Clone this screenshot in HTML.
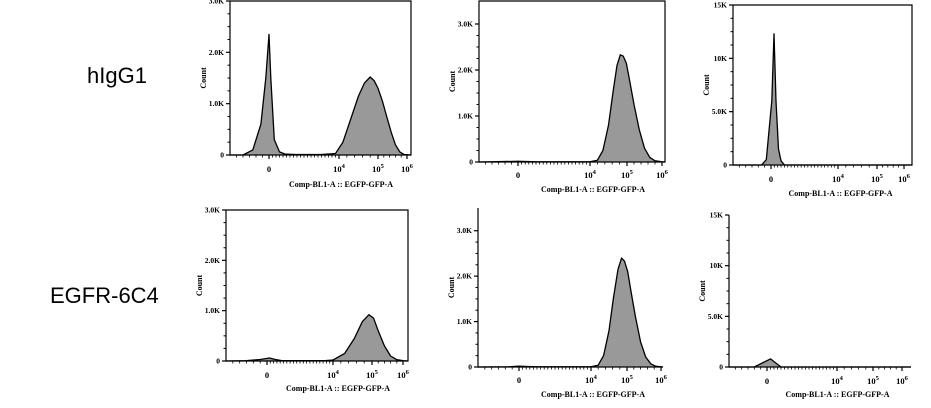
<!DOCTYPE html>
<html><head><meta charset="utf-8"><style>
html,body{margin:0;padding:0;background:#fff;}
body{width:931px;height:408px;overflow:hidden;position:relative;font-family:"Liberation Sans",sans-serif;}
.row{position:absolute;font-size:22px;color:#000;}
svg text{font-family:"Liberation Serif",serif;font-weight:bold;fill:#000;}
</style></head><body>
<div class="row" style="left:87px;top:63px;">hIgG1</div>
<div class="row" style="left:50px;top:283px;">EGFR-6C4</div>
<svg id="chart" width="931" height="408" style="position:absolute;left:0;top:0"></svg>
<script>
// data: x in decade-position units (0 = zero, 4 = 10^4 ...), y = counts
const p1X=[-1.2,-0.8,-0.5,-0.25,-0.1,0,0.1,0.3,0.6,0.9,1.5,2,3,3.8,4.1,4.3,4.5,4.65,4.8,4.9,5.0,5.15,5.3,5.45,5.6,5.75,5.9,6.15];
const p1Y=[0,0,100,600,1500,2350,1500,300,60,20,10,10,10,30,250,700,1150,1400,1520,1450,1300,1050,750,450,200,60,10,0];
const p2X=[-1.2,0,1,4,4.2,4.35,4.5,4.62,4.73,4.82,4.9,4.98,5.08,5.2,5.35,5.5,5.65,5.8,6,6.15];
const p2Y=[0,15,5,5,40,250,800,1500,2100,2330,2300,2150,1750,1250,700,300,100,25,5,0];
const p3X=[-1.2,-0.3,-0.15,0.05,0.18,0.3,0.45,0.6,0.8,6.15];
const p3Y=[0,0,500,6000,12300,6000,1500,400,0,0];
const p4X=[-1.2,-0.6,-0.2,0.15,0.5,0.9,1.5,3.5,4.0,4.3,4.55,4.75,4.92,5.05,5.2,5.4,5.6,5.8,6,6.15];
const p4Y=[0,5,30,60,30,5,5,5,20,150,450,780,920,850,600,300,100,25,5,0];
const p5X=[-1.2,-0.3,0,0.5,1,4,4.2,4.35,4.5,4.62,4.75,4.85,4.93,5.02,5.12,5.25,5.4,5.55,5.7,5.85,6,6.15];
const p5Y=[0,5,20,10,5,5,40,250,800,1500,2150,2400,2330,2100,1650,1100,550,220,70,15,5,0];
const p6X=[-1.2,-0.4,0.2,0.8,6.15];
const p6Y=[0,0,800,0,0];
const tickVals3K=[0,1000,2000,3000];
const tickLbl3K=["0","1.0K","2.0K","3.0K"];
const tickVals15K=[0,5000,10000,15000];
const tickLbl15K=["0","5.0K","10K","15K"];
const xTickD=[0,4,5,6];

const NS="http://www.w3.org/2000/svg";
const svg=document.getElementById('chart');
function mk(tag,attrs,parent){const e=document.createElementNS(NS,tag);for(const k in attrs)e.setAttribute(k,attrs[k]);(parent||svg).appendChild(e);return e;}

const panels=[
 {id:'p1',xs:p1X,ys:p1Y,L:230,R:411,T:1,B:155,ymax:3000,tv:tickVals3K,tl:tickLbl3K,anch:[230,269,339,378,407,411],box:true,lab:172,tit:187},
 {id:'p2',xs:p2X,ys:p2Y,L:479,R:665,T:1,B:162,ymax:3500,tv:tickVals3K,tl:tickLbl3K,anch:[479,518,590,627,662,665],box:true,lab:178,tit:192},
 {id:'p3',xs:p3X,ys:p3Y,L:733,R:912,T:5,B:165,ymax:15000,tv:tickVals15K,tl:tickLbl15K,anch:[733,771,838,877,904,912],box:true,lab:182,tit:196},
 {id:'p4',xs:p4X,ys:p4Y,L:226,R:408,T:210,B:361,ymax:3000,tv:tickVals3K,tl:tickLbl3K,anch:[226,267,333,372,403,408],box:true,lab:378,tit:391},
 {id:'p5',xs:p5X,ys:p5Y,L:478,R:663,T:208,B:367,ymax:3500,tv:tickVals3K,tl:tickLbl3K,anch:[478,519,591,627,661,663],box:false,lab:383,tit:397},
 {id:'p6',xs:p6X,ys:p6Y,L:729,R:911,T:215,B:367,ymax:15000,tv:tickVals15K,tl:tickLbl15K,anch:[729,767,837,873,902,911],box:false,lab:384,tit:397}
];
const anchD=[-1.2,0,4,5,6,6.15];

panels.forEach(p=>{
  const g=mk('g',{});
  
  
  const xS=d=>{for(let i=0;i<anchD.length-1;i++){if(d<=anchD[i+1]||i==anchD.length-2){const t=(d-anchD[i])/(anchD[i+1]-anchD[i]);return p.anch[i]+t*(p.anch[i+1]-p.anch[i]);}}};
  const yS=v=>p.B-(v/p.ymax)*(p.B-p.T);
  let d='M'+xS(p.xs[0])+','+p.B;
  p.xs.forEach((x,i)=>{d+=' L'+xS(x).toFixed(1)+','+yS(p.ys[i]).toFixed(1);});
  d+=' L'+xS(p.xs[p.xs.length-1])+','+p.B+' Z';
  const area=mk('path',{d:d,fill:'#999',stroke:'none'},g);
  
  
  let ld='';
  p.xs.forEach((x,i)=>{ld+=(i?' L':'M')+xS(x).toFixed(1)+','+yS(p.ys[i]).toFixed(1);});
  const line=mk('path',{d:ld,fill:'none',stroke:'#000','stroke-width':1.3,'stroke-linejoin':'round'},g);
  
  
  const ax=mk('path',{d:`M${p.L},${p.T} L${p.L},${p.B} L${p.R},${p.B}`+(p.box?` L${p.R},${p.T} Z`:''),fill:'none',stroke:'#000','stroke-width':1.2},g);
  
  
  p.tv.forEach((v,i)=>{
    const y=yS(v);
    mk('line',{x1:p.L-4,x2:p.L,y1:y,y2:y,stroke:'#000','stroke-width':1.2},g);
    const t=mk('text',{x:p.L-6,y:y+2.5,'font-size':7.5,'text-anchor':'end'},g);
    t.textContent=p.tl[i];
    
    
    if(i<p.tv.length-1){for(let k=1;k<4;k++){const ym=yS(v+(p.tv[1]-p.tv[0])*k/4);mk('line',{x1:p.L-2.5,x2:p.L,y1:ym,y2:ym,stroke:'#000'},g);}}
  });
  xTickD.forEach(dv=>{
    const x=xS(dv);
    mk('line',{x1:x,x2:x,y1:p.B,y2:p.B+4,stroke:'#000','stroke-width':1.2},g);
    const t=mk('text',{x:x,y:p.lab,'font-size':8.5,'text-anchor':'middle'},g);
    if(dv===0)t.textContent='0';else{t.textContent='10';const s=mk('tspan',{dy:-4,'font-size':6.5},t);s.textContent=String(dv);}
    
    
  });
  for(let dv=-1;dv<6;dv+=0.2){const x=xS(dv);mk('line',{x1:x,x2:x,y1:p.B,y2:p.B+2.5,stroke:'#000','stroke-width':0.8},g);}
  const xt=mk('text',{x:(p.anch[1]+p.anch[4])/2+3,y:p.tit,'font-size':8,'text-anchor':'middle','font-weight':'normal'},g);
  xt.textContent='Comp-BL1-A :: EGFP-GFP-A';
  
  
  const yc=(p.T+p.B)/2;
  const yt=mk('text',{x:p.L-24,y:yc,'font-size':8,'text-anchor':'middle',transform:`rotate(-90 ${p.L-24} ${yc})`},g);
  yt.textContent='Count';
  
  
});
</script>
</body></html>
